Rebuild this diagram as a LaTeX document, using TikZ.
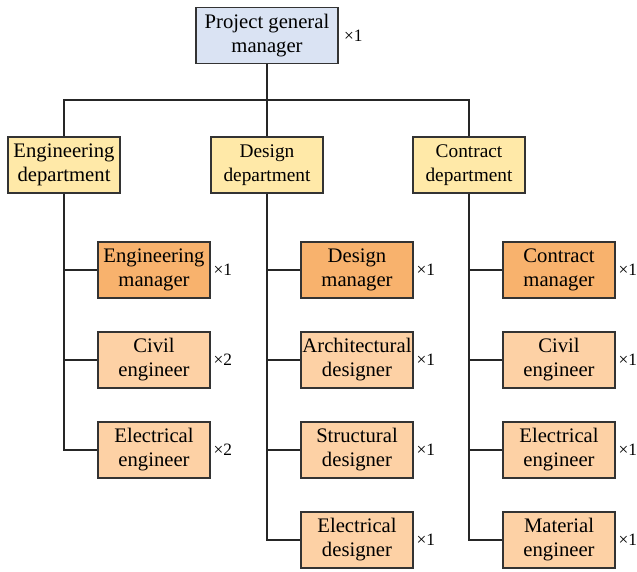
\documentclass[tikz,border=0pt]{standalone}
\usepackage{fontspec}
\setmainfont{Liberation Serif}
\usetikzlibrary{positioning, calc}
\definecolor{topblue}{HTML}{DAE3F3}
\definecolor{deptyellow}{HTML}{FFE9A8}
\definecolor{mgrorange}{HTML}{F8B26D}
\definecolor{staffpeach}{HTML}{FDD1A5}
\tikzset{
    box/.style={draw=black!80, line width=0.9pt, align=center, inner sep=0pt,
        minimum width=84pt, minimum height=42pt, font=\fontsize{15.5}{18}\selectfont},
    topbox/.append style={box, fill=topblue, minimum width=106.5pt},
    deptbox/.append style={box, fill=deptyellow},
    smalldept/.append style={deptbox, font=\fontsize{14.5}{18}\selectfont},
    mgrbox/.append style={box, fill=mgrorange},
    staffbox/.append style={box, fill=staffpeach},
    count/.style={anchor=west, inner sep=0pt, font=\fontsize{13}{15}\selectfont},
    link/.style={draw=black!85, line width=0.9pt},
}

\begin{document}
\begin{tikzpicture}[x=0.75pt, y=-0.75pt]
    \useasboundingbox (0,0) rectangle (637,572);

    \node[topbox] (pgm) at (267, 35.5) {Project general\\manager};
    \node[count, right=4pt of pgm] (pgmx) {×1};

    \node[deptbox] (eng) at (64, 165) {Engineering\\department};
    \node[smalldept] (des) at (267, 165) {Design\\department};
    \node[smalldept] (con) at (469, 165) {Contract\\department};

    % engineering department
    \node[mgrbox] (engm) at (154, 270) {Engineering\\manager};
    \node[staffbox] (engc) at (154, 360) {Civil\\engineer};
    \node[staffbox] (enge) at (154, 450) {Electrical\\engineer};

    % design department
    \node[mgrbox] (desm) at (357, 270) {Design\\manager};
    \node[staffbox] (desa) at (357, 360) {Architectural\\designer};
    \node[staffbox] (dess) at (357, 450) {Structural\\designer};
    \node[staffbox] (dese) at (357, 540) {Electrical\\designer};

    % contract department
    \node[mgrbox] (conm) at (559, 270) {Contract\\manager};
    \node[staffbox] (conc) at (559, 360) {Civil\\engineer};
    \node[staffbox] (cone) at (559, 450) {Electrical\\engineer};
    \node[staffbox] (conmt) at (559, 540) {Material\\engineer};

    \node[count, right=2pt of engm] (engmx) {×1};
    \node[count, right=2pt of engc] (engcx) {×2};
    \node[count, right=2pt of enge] (engex) {×2};
    \node[count, right=2pt of desm] (desmx) {×1};
    \node[count, right=2pt of desa] (desax) {×1};
    \node[count, right=2pt of dess] (dessx) {×1};
    \node[count, right=2pt of dese] (desex) {×1};
    \node[count, right=2pt of conm] (conmx) {×1};
    \node[count, right=2pt of conc] (concx) {×1};
    \node[count, right=2pt of cone] (conex) {×1};
    \node[count, right=2pt of conmt] (conmtx) {×1};

    \coordinate (bus) at (267, 100);

    \draw[link] (pgm.south) -- (des.north);
    \draw[link] (bus) -| (eng.north);
    \draw[link] (bus) -| (con.north);

    \foreach \c in {engm, engc, enge}
        \draw[link] (eng.south) |- (\c.west);
    \foreach \c in {desm, desa, dess, dese}
        \draw[link] (des.south) |- (\c.west);
    \foreach \c in {conm, conc, cone, conmt}
        \draw[link] (con.south) |- (\c.west);
\end{tikzpicture}
\end{document}
